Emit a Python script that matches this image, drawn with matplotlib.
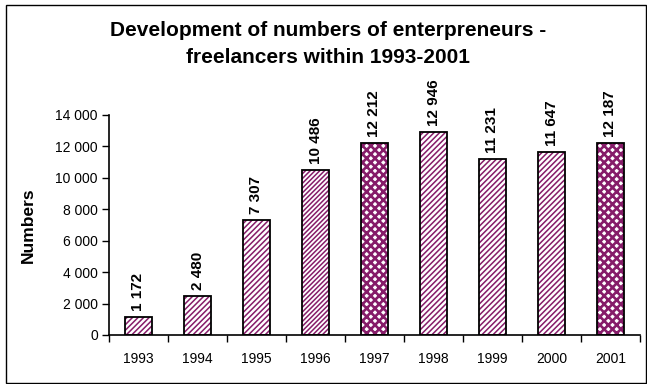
import matplotlib
matplotlib.use("Agg")
import matplotlib.pyplot as plt
from matplotlib.patches import Rectangle
from matplotlib.ticker import FuncFormatter, MultipleLocator, FixedLocator

years = ["1993", "1994", "1995", "1996", "1997", "1998", "1999", "2000", "2001"]
entrepreneurs = [1172, 2480, 7307, 10486, 12212, 12946, 11231, 11647, 12187]
hatches = ["//////", "//////", "//////", "///////", "xxxx", "//////", "//////", "//////", "xxxx"]
hatch_widths = [1.1, 1.1, 1.1, 1.1, 1.9, 1.1, 1.1, 1.1, 1.9]

W, H = 647, 384
plt.rcParams["font.family"] = ["Liberation Sans", "DejaVu Sans"]

fig = plt.figure(figsize=(W / 100, H / 100), dpi=100)
fig.patch.set_facecolor("white")

# outer chart frame
fig.add_artist(Rectangle((6 / W, 1.5 / H), 640 / W, 377.5 / H, transform=fig.transFigure,
                         fill=False, edgecolor="black", linewidth=1.0))

ax = fig.add_axes([109 / W, (H - 335) / H, (640 - 109) / W, 220 / H])
x = list(range(len(years)))
purple = "#861c69"

for xi, v, h, hw in zip(x, entrepreneurs, hatches, hatch_widths):
    with plt.rc_context({"hatch.linewidth": hw}):
        ax.bar(xi, v, width=0.45, color="white", edgecolor=purple, hatch=h, linewidth=0)
ax.bar(x, entrepreneurs, width=0.45, fill=False, edgecolor="black", linewidth=1.3)

fmt = lambda v: f"{int(v):,}".replace(",", " ")
for xi, v in zip(x, entrepreneurs):
    ax.annotate(fmt(v), (xi, v), xytext=(0, 6), textcoords="offset pixels",
                rotation=90, ha="center", va="bottom", fontsize=11, fontweight="bold")

ax.set_xlim(-0.5, len(years) - 0.5)
ax.set_ylim(0, 14000)
ax.yaxis.set_major_locator(MultipleLocator(2000))
ax.yaxis.set_major_formatter(FuncFormatter(lambda v, p: fmt(v)))
ax.set_xticks(x)
ax.set_xticklabels(years)
ax.xaxis.set_minor_locator(FixedLocator([i - 0.5 for i in range(len(years) + 1)]))
ax.tick_params(axis="x", which="major", length=0, pad=12, labelsize=10)
ax.tick_params(axis="x", which="minor", length=5, width=1, direction="out")
ax.tick_params(axis="y", length=5, width=1, direction="out", labelsize=10, pad=3)

for s in ("top", "right"):
    ax.spines[s].set_visible(False)
for s in ("left", "bottom"):
    ax.spines[s].set_linewidth(1.2)

ax.set_ylabel("Numbers", fontsize=12.5, fontweight="bold", labelpad=14)

fig.text(328 / W, 1 - 36 / H, "Development of numbers of enterpreneurs -", ha="center",
         va="baseline", fontsize=15, fontweight="bold")
fig.text(328 / W, 1 - 63 / H, "freelancers within 1993-2001", ha="center",
         va="baseline", fontsize=15, fontweight="bold")

fig.savefig("out.png", dpi=100, facecolor="white")
